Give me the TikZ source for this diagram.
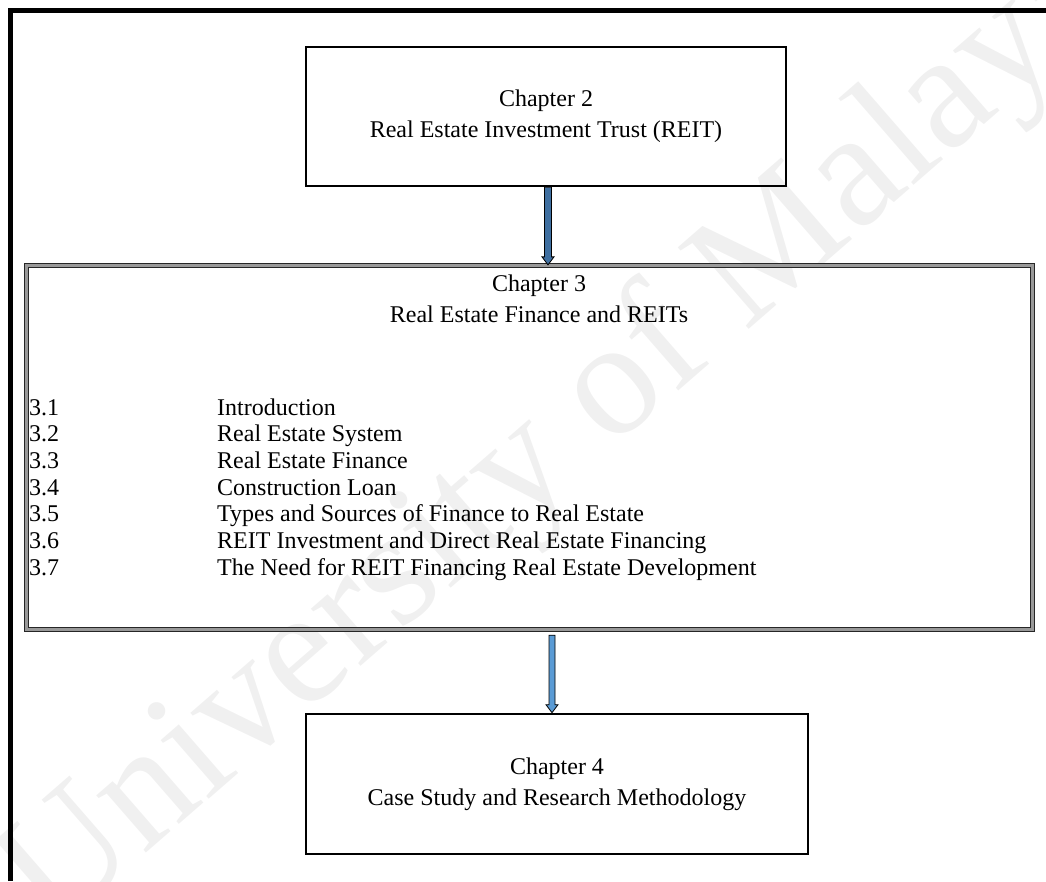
\documentclass[tikz,border=0pt]{standalone}
\usepackage{fontspec}
\setmainfont{Liberation Serif}
\usetikzlibrary{calc}
\definecolor{arrowA}{HTML}{3F6FA0}
\definecolor{arrowB}{HTML}{5A9BD5}
\begin{document}
\begin{tikzpicture}[x=1pt,y=-1pt,
  txt/.style={font=\fontsize{24}{31}\selectfont, inner sep=0pt},
  chbox/.style={draw, line width=2.6pt, align=center, txt},
  item/.style={txt, anchor=base west},
  blockarrow/.style={draw=black, line width=0.8pt}]
\useasboundingbox (0,0) rectangle (1046,881);
% faint watermark behind the drawing
\node[font=\fontsize{165}{165}\selectfont, text=black!6, rotate=41, inner sep=0pt]
  (wm) at (560,440) {University of Malaya};
% outer frame, open to the right and bottom
\draw[line width=5pt] (10.5,881) -- (10.5,10.5) -- (1046,10.5);
% chapter boxes
\node[chbox, minimum width=480, minimum height=139] (c2) at (546,116.5)
  {Chapter 2\\Real Estate Investment Trust (REIT)};
\node[chbox, minimum width=502, minimum height=140] (c4) at (557,784)
  {Chapter 4\\Case Study and Research Methodology};
\node[draw=black!85, double=black!40, double distance=2.4pt, line width=1.3pt,
  minimum width=1006, minimum height=364, inner sep=0pt] (c3) at (529.5,447.5) {};
\node[txt, align=center] (c3t) at (539,298.5) {Chapter 3\\Real Estate Finance and REITs};
\foreach \n/\t [count=\k] in {3.1/Introduction, 3.2/Real Estate System,
    3.3/Real Estate Finance, 3.4/Construction Loan,
    3.5/Types and Sources of Finance to Real Estate,
    3.6/REIT Investment and Direct Real Estate Financing,
    3.7/The Need for REIT Financing Real Estate Development} {
  \node[item] (n\k) at (29,{415+26.7*(\k-1)}) {\n};
  \node[item] (t\k) at (217,{415+26.7*(\k-1)}) {\t};
}
% block arrows between the boxes
\path (c2.south) ++(2,0) coordinate (a1t);
\coordinate (a1b) at (a1t |- c3.north);
\filldraw[blockarrow, fill=arrowA]
  ($(a1t)+(-3.5,0)$) -- ($(a1t)+(3.5,0)$) -- ($(a1b)+(3.5,-8)$) -- ($(a1b)+(6,-8)$)
  -- (a1b) -- ($(a1b)+(-6,-8)$) -- ($(a1b)+(-3.5,-8)$) -- cycle;
\path (c3.south) ++(22.5,5) coordinate (a2t);
\coordinate (a2b) at (a2t |- c4.north);
\filldraw[blockarrow, fill=arrowB]
  ($(a2t)+(-3,0)$) -- ($(a2t)+(3,0)$) -- ($(a2b)+(3,-8)$) -- ($(a2b)+(6,-8)$)
  -- (a2b) -- ($(a2b)+(-6,-8)$) -- ($(a2b)+(-3,-8)$) -- cycle;
\end{tikzpicture}
\end{document}
